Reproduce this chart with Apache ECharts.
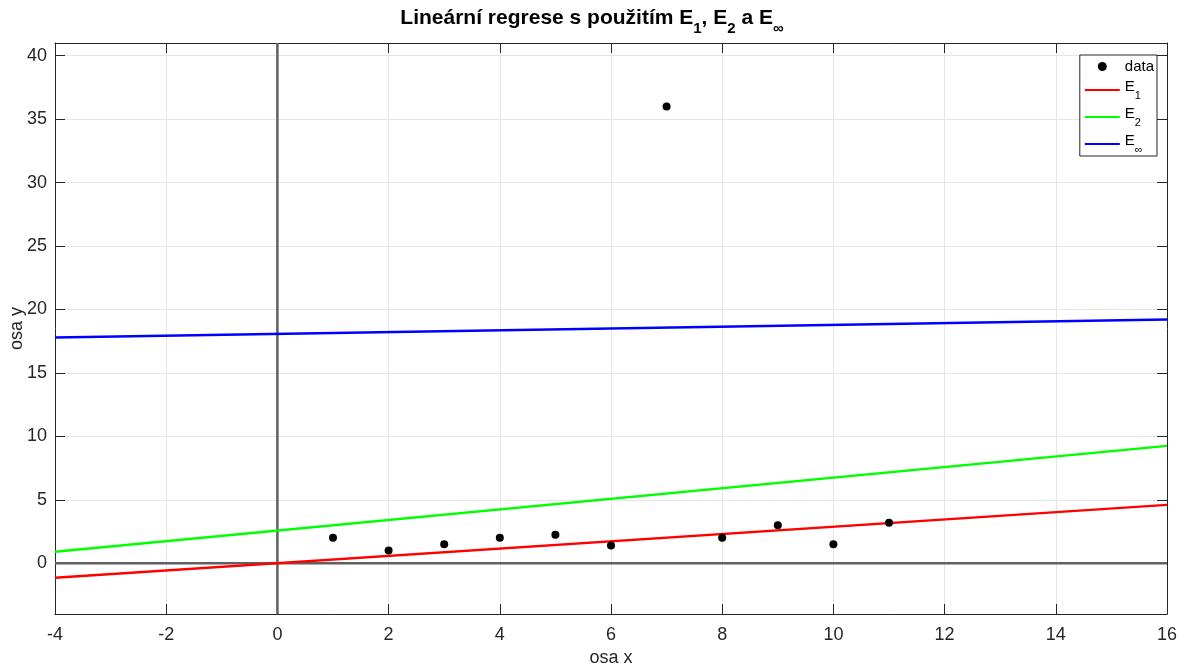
<!DOCTYPE html>
<html>
<head>
<meta charset="utf-8">
<script src="https://cdn.jsdelivr.net/npm/echarts@6/dist/echarts.min.js"></script>
<style>html,body{margin:0;padding:0;background:#fff}#c{width:1184px;height:667px}</style>
</head>
<body>
<div id="c"></div>
<script>
// data points
const dataX = [1, 2, 3, 4, 5, 6, 7, 8, 9, 10, 11];
const dataY = [2, 1, 1.5, 2, 2.25, 1.4, 36, 2, 3, 1.5, 3.2];
// regression lines evaluated at the ends of the x range
const lineX = [-4, 16];
const e1Y = [-1.15, 4.6];
const e2Y = [0.9, 9.25];
const einfY = [17.8, 19.2];
// axis ranges
const xRange = [-4, 16];
const yRange = [-4, 41];
const seriesNames = ['data', 'E1', 'E2', 'Einf'];
const legendLabels = {
  data: '{n|data}',
  E1: '{n|E}{s|1}',
  E2: '{n|E}{s|2}',
  Einf: '{n|E}{s|∞}'
};

const pts = dataX.map((x, i) => [x, dataY[i]]);
const ln = ys => lineX.map((x, i) => [x, ys[i]]);

const FONT = 'Liberation Sans, Arial, Helvetica, sans-serif';
const axisCol = '#262626';
const gridCol = '#e6e6e6';

const chart = echarts.init(document.getElementById('c'), null, {renderer: 'canvas'});
const baseX = {
  type: 'value', min: xRange[0], max: xRange[1], interval: 2,
  axisLine: {show: true, onZero: false, lineStyle: {color: axisCol, width: 1}},
  axisTick: {show: true, inside: true, length: 10, lineStyle: {color: axisCol}},
};
const baseY = {
  type: 'value', min: yRange[0], max: yRange[1], minInterval: 5, maxInterval: 5, splitNumber: 9,
  axisLine: {show: true, onZero: false, lineStyle: {color: axisCol, width: 1}},
  axisTick: {show: true, inside: true, length: 10, lineStyle: {color: axisCol}},
};
const tickFilter = v => (v % 5 === 0 ? String(v) : '');
const noSym = {color: 'rgba(0,0,0,0)', borderWidth: 0};

chart.setOption({
  animation: false,
  backgroundColor: '#fff',
  textStyle: {fontFamily: FONT},
  title: {
    text: '{t|Lineární regrese s použitím E}{s|1}{t|, E}{s|2}{t| a E}{s|∞}',
    left: 'center', top: 3,
    textStyle: {
      rich: {
        t: {fontFamily: FONT, fontSize: 21, fontWeight: 'bold', color: '#000', lineHeight: 22, verticalAlign: 'top'},
        s: {fontFamily: FONT, fontSize: 15, fontWeight: 'bold', color: '#000', lineHeight: 28, verticalAlign: 'bottom'}
      }
    }
  },
  grid: {left: 55, right: 17, top: 43, bottom: 53, containLabel: false, outerBoundsMode: 'none', show: false},
  legend: {
    data: [
      {name: 'data'},
      {name: 'E1', itemStyle: noSym},
      {name: 'E2', itemStyle: noSym},
      {name: 'Einf', itemStyle: noSym}
    ],
    orient: 'vertical',
    right: 27, top: 55,
    backgroundColor: '#fff',
    borderColor: axisCol, borderWidth: 1, borderRadius: 0,
    padding: [4, 3, 1, 4],
    itemWidth: 35, itemHeight: 9, itemGap: 5,
    formatter: n => legendLabels[n],
    textStyle: {
      rich: {
        n: {fontFamily: FONT, fontSize: 15, color: '#000', lineHeight: 15, verticalAlign: 'top'},
        s: {fontFamily: FONT, fontSize: 11, color: '#000', lineHeight: 22, verticalAlign: 'bottom'}
      }
    }
  },
  xAxis: [
    Object.assign({}, baseX, {
      position: 'bottom',
      name: 'osa x', nameLocation: 'middle', nameGap: 35, nameMoveOverlap: false,
      nameTextStyle: {fontFamily: FONT, fontSize: 18, color: axisCol},
      axisLabel: {show: true, margin: 12, fontFamily: FONT, fontSize: 18, color: axisCol},
      splitLine: {show: true, lineStyle: {color: gridCol, width: 1}}
    }),
    Object.assign({}, baseX, {
      position: 'top',
      axisLabel: {show: false},
      splitLine: {show: false}
    })
  ],
  yAxis: [
    Object.assign({}, baseY, {
      position: 'left',
      name: 'osa y', nameLocation: 'middle', nameGap: 29, nameRotate: 90, nameMoveOverlap: false,
      nameTextStyle: {fontFamily: FONT, fontSize: 18, color: axisCol},
      axisLabel: {show: true, margin: 8, fontFamily: FONT, fontSize: 18, color: axisCol,
                  showMinLabel: false, showMaxLabel: false, formatter: tickFilter},
      splitLine: {show: true, lineStyle: {color: gridCol, width: 1}}
    }),
    Object.assign({}, baseY, {
      position: 'right',
      axisLabel: {show: false},
      splitLine: {show: false}
    })
  ],
  series: [
    {
      name: 'zeroX', type: 'line', silent: true, symbol: 'none',
      data: [[xRange[0], 0], [xRange[1], 0]],
      lineStyle: {color: '#606060', width: 2.5}, z: 1
    },
    {
      name: 'zeroY', type: 'line', silent: true, symbol: 'none',
      data: [[0, yRange[0]], [0, yRange[1]]],
      lineStyle: {color: '#606060', width: 2.5}, z: 1
    },
    {
      name: 'E1', type: 'line', symbol: 'none', data: ln(e1Y),
      lineStyle: {color: '#ff0000', width: 2.5}, itemStyle: {color: '#ff0000'}, z: 3
    },
    {
      name: 'E2', type: 'line', symbol: 'none', data: ln(e2Y),
      lineStyle: {color: '#00ff00', width: 2.5}, itemStyle: {color: '#00ff00'}, z: 3
    },
    {
      name: 'Einf', type: 'line', symbol: 'none', data: ln(einfY),
      lineStyle: {color: '#0000ff', width: 2.5}, itemStyle: {color: '#0000ff'}, z: 3
    },
    {
      name: 'data', type: 'scatter', symbol: 'circle', symbolSize: 8, data: pts,
      itemStyle: {color: '#000', opacity: 1}, z: 5
    }
  ]
});
</script>
</body>
</html>
